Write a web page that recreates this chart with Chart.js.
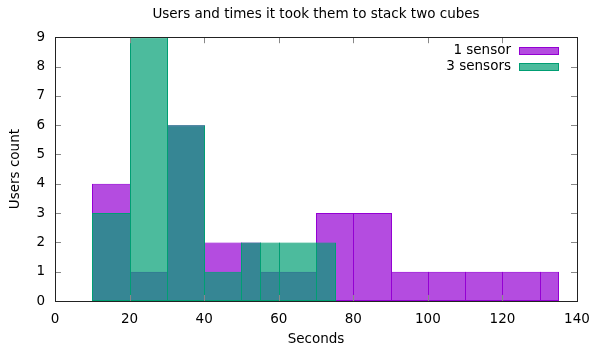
<!DOCTYPE html>
<html>
<head>
<meta charset="utf-8">
<script src="https://cdn.jsdelivr.net/npm/chart.js@4/dist/chart.umd.min.js"></script>
<style>
  html, body { margin: 0; padding: 0; background: #fff; }
  #wrap { width: 591px; height: 354px; }
</style>
</head>
<body>
<div id="wrap"><canvas id="c" width="591" height="354"></canvas></div>
<script>
// Histogram bins (seconds) and user counts for each setup
const oneSensorStarts = [10, 20, 30, 40, 50, 55, 60, 70, 80, 90, 100, 110, 120, 130];
const oneSensorEnds   = [20, 30, 40, 50, 55, 60, 70, 80, 90, 100, 110, 120, 130, 135];
const oneSensorCounts = [4, 1, 6, 2, 2, 1, 1, 3, 3, 1, 1, 1, 1, 1];

const threeSensorStarts = [10, 20, 30, 40, 50, 55, 60, 70];
const threeSensorEnds   = [20, 30, 40, 50, 55, 60, 70, 75];
const threeSensorCounts = [3, 9, 6, 1, 2, 2, 2, 2];

const xTicks = [0, 20, 40, 60, 80, 100, 120, 140];
const yTicks = [0, 1, 2, 3, 4, 5, 6, 7, 8, 9];

const seriesLabels = ['1 sensor', '3 sensors'];

function toBins(starts, ends, counts) {
  return counts.map((c, i) => ({ x: (starts[i] + ends[i]) / 2, y: c, x0: starts[i], x1: ends[i] }));
}

const FONT = 'DejaVu Sans';
const FSIZE = 13.5;

// Stretch every box to its own bin edges on the x scale
const binWidths = {
  id: 'binWidths',
  afterDatasetsUpdate(chart) {
    const xs = chart.scales.x;
    chart.data.datasets.forEach((ds, di) => {
      const meta = chart.getDatasetMeta(di);
      meta.data.forEach((el, i) => {
        const p = ds.data[i];
        const l = Math.round(xs.getPixelForValue(p.x0));
        const r = Math.round(xs.getPixelForValue(p.x1)) + 1;
        el.x = (l + r) / 2;
        el.width = r - l;
      });
    });
  }
};

// Frame with inward ticks on all four sides
const frame = {
  id: 'frame',
  afterDatasetsDraw(chart) {
    const { ctx, chartArea: a, scales } = chart;
    ctx.save();
    ctx.lineWidth = 1;
    ctx.strokeStyle = '#888';
    ctx.beginPath();
    const tl = 6;
    xTicks.forEach(v => {
      const px = Math.round(scales.x.getPixelForValue(v)) + 0.5;
      if (v === xTicks[0] || v === xTicks[xTicks.length - 1]) return;
      ctx.moveTo(px, a.bottom); ctx.lineTo(px, a.bottom - tl);
      ctx.moveTo(px, a.top); ctx.lineTo(px, a.top + tl);
    });
    yTicks.forEach(v => {
      const py = Math.round(scales.y.getPixelForValue(v)) + 0.5;
      if (v === yTicks[0] || v === yTicks[yTicks.length - 1]) return;
      ctx.moveTo(a.left, py); ctx.lineTo(a.left + tl, py);
      ctx.moveTo(a.right, py); ctx.lineTo(a.right - tl, py);
    });
    ctx.stroke();
    ctx.strokeStyle = '#222';
    ctx.strokeRect(Math.round(a.left) + 0.5, Math.round(a.top) + 0.5,
                   Math.round(a.right - a.left), Math.round(a.bottom - a.top));
    ctx.restore();
  }
};

// Key in the upper right: label text, then a filled swatch
const boxKey = {
  id: 'boxKey',
  afterDraw(chart) {
    const { ctx, chartArea: a } = chart;
    ctx.save();
    ctx.font = FSIZE + 'px "' + FONT + '"';
    ctx.textAlign = 'right';
    ctx.textBaseline = 'middle';
    chart.data.datasets.forEach((ds, i) => {
      const cy = Math.round(a.top) + 13.5 + i * 16;
      ctx.fillStyle = '#000';
      ctx.fillText(ds.label, Math.round(a.right) - 66, cy);
      ctx.fillStyle = ds.backgroundColor;
      ctx.fillRect(Math.round(a.right) - 58, Math.round(cy - 4), 40, 8);
      ctx.strokeStyle = ds.borderColor;
      ctx.lineWidth = 1;
      ctx.strokeRect(Math.round(a.right) - 58 + 0.5, Math.round(cy - 4) + 0.5, 39, 7);
    });
    ctx.restore();
  }
};

new Chart(document.getElementById('c'), {
  type: 'bar',
  data: {
    datasets: [
      {
        label: seriesLabels[0],
        data: toBins(oneSensorStarts, oneSensorEnds, oneSensorCounts),
        backgroundColor: 'rgba(148, 0, 211, 0.7)',
        borderColor: '#9400d3',
        borderWidth: 1,
        borderSkipped: false,
        grouped: false,
        order: 1
      },
      {
        label: seriesLabels[1],
        data: toBins(threeSensorStarts, threeSensorEnds, threeSensorCounts),
        backgroundColor: 'rgba(0, 158, 115, 0.7)',
        borderColor: '#009e73',
        borderWidth: 1,
        borderSkipped: false,
        grouped: false,
        order: 0
      }
    ]
  },
  options: {
    responsive: false,
    animation: false,
    events: [],
    layout: { padding: { left: 0, right: 14, top: 0, bottom: 0 } },
    plugins: {
      legend: { display: false },
      tooltip: { enabled: false },
      title: {
        display: true,
        fullSize: false,
        text: 'Users and times it took them to stack two cubes',
        color: '#000',
        font: { family: FONT, size: FSIZE, weight: 'normal' },
        padding: { top: 6, bottom: 15 }
      }
    },
    scales: {
      x: {
        type: 'linear',
        offset: false,
        min: 0,
        max: 140,
        afterBuildTicks(s) { s.ticks = xTicks.map(v => ({ value: v })); },
        afterFit(s) { s.height = 53; s.paddingLeft = 0; s.paddingRight = 0; },
        grid: { display: false, drawTicks: false, offset: false },
        border: { display: false },
        ticks: { color: '#000', padding: 10, font: { family: FONT, size: FSIZE }, maxRotation: 0 },
        title: {
          display: true,
          text: 'Seconds',
          color: '#000',
          font: { family: FONT, size: FSIZE },
          padding: { top: 6, bottom: 6 }
        }
      },
      y: {
        min: 0,
        max: 9,
        afterBuildTicks(s) { s.ticks = yTicks.map(v => ({ value: v })); },
        afterFit(s) { s.width = 55; s.paddingTop = 0; s.paddingBottom = 0; },
        grid: { display: false, drawTicks: false },
        border: { display: false },
        ticks: { color: '#000', padding: 10, font: { family: FONT, size: FSIZE } },
        title: {
          display: true,
          text: 'Users count',
          color: '#000',
          font: { family: FONT, size: FSIZE },
          padding: { top: 7, bottom: 0 }
        }
      }
    }
  },
  plugins: [binWidths, frame, boxKey]
});
</script>
</body>
</html>
